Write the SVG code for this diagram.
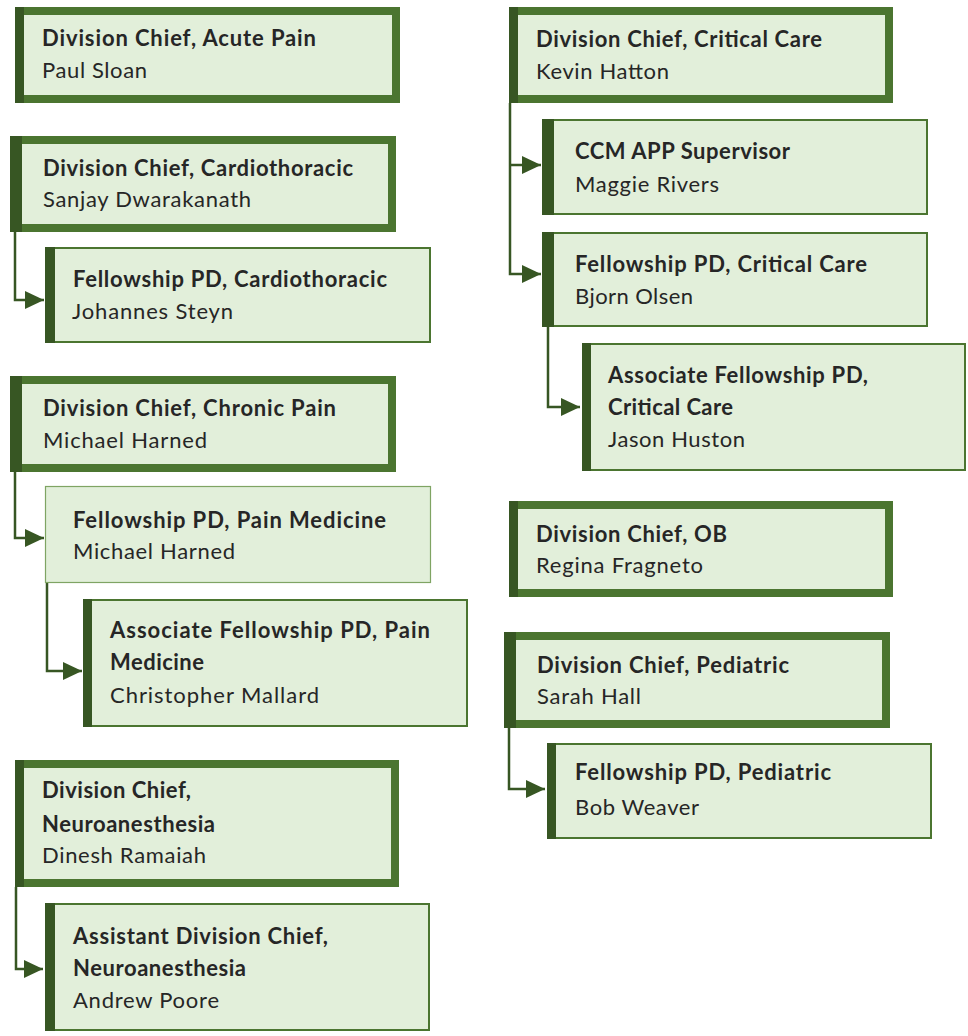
<svg xmlns="http://www.w3.org/2000/svg" width="968" height="1036" viewBox="0 0 968 1036">
<style>
  .chief { fill: #E2EFDA; stroke: #4B7530; stroke-width: 8; }
  .child { fill: #E2EFDA; stroke: #4B7530; stroke-width: 2; }
  .plain { fill: #E2EFDA; stroke: #7FA463; stroke-width: 1.2; }
  .stripe { fill: #375623; }
  .t { font-family: Lato, "Open Sans", "Liberation Sans", sans-serif; font-size: 22px; fill: #262626; }
  .b { font-weight: bold; }
  .conn { fill: none; stroke: #375623; stroke-width: 2.5; }
</style>
<defs>
  <marker id="arr" markerUnits="userSpaceOnUse" markerWidth="22" markerHeight="22" viewBox="-20 -10 22 20" refX="0" refY="0" orient="auto">
    <path d="M-19,-9 L0,0 L-19,9 Z" fill="#375623"/>
  </marker>
</defs>
<rect width="968" height="1036" fill="#FFFFFF"/>

<g id="connectors">
  <path class="conn" d="M15 232 V300 H44" marker-end="url(#arr)"/>
  <path class="conn" d="M15 472 V538 H44" marker-end="url(#arr)"/>
  <path class="conn" d="M47 583 V671 H82" marker-end="url(#arr)"/>
  <path class="conn" d="M16 887 V969 H43" marker-end="url(#arr)"/>
  <path class="conn" d="M510 103 V274 H541" marker-end="url(#arr)"/>
  <path class="conn" d="M510 165 H541" marker-end="url(#arr)"/>
  <path class="conn" d="M548 327 V407 H580" marker-end="url(#arr)"/>
  <path class="conn" d="M509 728 V789 H545" marker-end="url(#arr)"/>
</g>

<g id="chief-acute-pain">
  <rect class="chief" x="19" y="11" width="377" height="88"/>
  <rect class="stripe" x="15" y="7" width="9" height="96"/>
  <text class="t b" x="42" y="46" textLength="274" lengthAdjust="spacing">Division Chief, Acute Pain</text>
  <text class="t" x="42" y="78" textLength="105" lengthAdjust="spacing">Paul Sloan</text>
</g>

<g id="chief-cardiothoracic">
  <rect class="chief" x="14" y="140" width="378" height="88"/>
  <rect class="stripe" x="10" y="136" width="12" height="96"/>
  <text class="t b" x="43" y="176" textLength="310" lengthAdjust="spacing">Division Chief, Cardiothoracic</text>
  <text class="t" x="43" y="207" textLength="208" lengthAdjust="spacing">Sanjay Dwarakanath</text>
</g>

<g id="fellowship-cardiothoracic">
  <rect class="child" x="46" y="248" width="384" height="94"/>
  <rect class="stripe" x="45" y="247" width="10" height="96"/>
  <text class="t b" x="73" y="287" textLength="314" lengthAdjust="spacing">Fellowship PD, Cardiothoracic</text>
  <text class="t" x="72" y="319" textLength="161" lengthAdjust="spacing">Johannes Steyn</text>
</g>

<g id="chief-chronic-pain">
  <rect class="chief" x="14" y="380" width="378" height="88"/>
  <rect class="stripe" x="10" y="376" width="12" height="96"/>
  <text class="t b" x="43" y="416" textLength="293" lengthAdjust="spacing">Division Chief, Chronic Pain</text>
  <text class="t" x="43" y="448" textLength="164" lengthAdjust="spacing">Michael Harned</text>
</g>

<g id="fellowship-pain-medicine">
  <rect class="plain" x="45.5" y="486.5" width="385" height="96"/>
  <text class="t b" x="73" y="528" textLength="313" lengthAdjust="spacing">Fellowship PD, Pain Medicine</text>
  <text class="t" x="73" y="559" textLength="162" lengthAdjust="spacing">Michael Harned</text>
</g>

<g id="assoc-fellowship-pain-medicine">
  <rect class="child" x="84" y="600" width="383" height="126"/>
  <rect class="stripe" x="83" y="599" width="9" height="128"/>
  <text class="t b" x="110" y="638" textLength="320" lengthAdjust="spacing">Associate Fellowship PD, Pain</text>
  <text class="t b" x="110" y="670" textLength="94" lengthAdjust="spacing">Medicine</text>
  <text class="t" x="110" y="703" textLength="209" lengthAdjust="spacing">Christopher Mallard</text>
</g>

<g id="chief-neuroanesthesia">
  <rect class="chief" x="19" y="764" width="376" height="119"/>
  <rect class="stripe" x="15" y="760" width="9" height="127"/>
  <text class="t b" x="42" y="798" textLength="149" lengthAdjust="spacing">Division Chief,</text>
  <text class="t b" x="42" y="832" textLength="173" lengthAdjust="spacing">Neuroanesthesia</text>
  <text class="t" x="42" y="863" textLength="164" lengthAdjust="spacing">Dinesh Ramaiah</text>
</g>

<g id="assistant-chief-neuroanesthesia">
  <rect class="child" x="46" y="904" width="383" height="126"/>
  <rect class="stripe" x="45" y="903" width="10" height="128"/>
  <text class="t b" x="73" y="944" textLength="255" lengthAdjust="spacing">Assistant Division Chief,</text>
  <text class="t b" x="73" y="976" textLength="173" lengthAdjust="spacing">Neuroanesthesia</text>
  <text class="t" x="73" y="1008" textLength="146" lengthAdjust="spacing">Andrew Poore</text>
</g>

<g id="chief-critical-care">
  <rect class="chief" x="513" y="11" width="376" height="88"/>
  <rect class="stripe" x="509" y="7" width="9" height="96"/>
  <text class="t b" x="536" y="47" textLength="286" lengthAdjust="spacing">Division Chief, Critical Care</text>
  <text class="t" x="536" y="79" textLength="133" lengthAdjust="spacing">Kevin Hatton</text>
</g>

<g id="ccm-app-supervisor">
  <rect class="child" x="543" y="120" width="384" height="94"/>
  <rect class="stripe" x="542" y="119" width="12" height="96"/>
  <text class="t b" x="575" y="159" textLength="215" lengthAdjust="spacing">CCM APP Supervisor</text>
  <text class="t" x="575" y="192" textLength="144" lengthAdjust="spacing">Maggie Rivers</text>
</g>

<g id="fellowship-critical-care">
  <rect class="child" x="543" y="233" width="384" height="93"/>
  <rect class="stripe" x="542" y="232" width="12" height="95"/>
  <text class="t b" x="575" y="272" textLength="292" lengthAdjust="spacing">Fellowship PD, Critical Care</text>
  <text class="t" x="575" y="304" textLength="118" lengthAdjust="spacing">Bjorn Olsen</text>
</g>

<g id="assoc-fellowship-critical-care">
  <rect class="child" x="583" y="344" width="382" height="126"/>
  <rect class="stripe" x="582" y="343" width="9" height="128"/>
  <text class="t b" x="608" y="383" textLength="260" lengthAdjust="spacing">Associate Fellowship PD,</text>
  <text class="t b" x="608" y="415" textLength="125" lengthAdjust="spacing">Critical Care</text>
  <text class="t" x="608" y="447" textLength="137" lengthAdjust="spacing">Jason Huston</text>
</g>

<g id="chief-ob">
  <rect class="chief" x="513" y="505" width="376" height="88"/>
  <rect class="stripe" x="509" y="501" width="9" height="96"/>
  <text class="t b" x="536" y="542" textLength="191" lengthAdjust="spacing">Division Chief, OB</text>
  <text class="t" x="536" y="573" textLength="167" lengthAdjust="spacing">Regina Fragneto</text>
</g>

<g id="chief-pediatric">
  <rect class="chief" x="508" y="636" width="378" height="88"/>
  <rect class="stripe" x="504" y="632" width="12" height="96"/>
  <text class="t b" x="537" y="673" textLength="252" lengthAdjust="spacing">Division Chief, Pediatric</text>
  <text class="t" x="537" y="704" textLength="104" lengthAdjust="spacing">Sarah Hall</text>
</g>

<g id="fellowship-pediatric">
  <rect class="child" x="548" y="744" width="383" height="94"/>
  <rect class="stripe" x="547" y="743" width="9" height="96"/>
  <text class="t b" x="575" y="780" textLength="256" lengthAdjust="spacing">Fellowship PD, Pediatric</text>
  <text class="t" x="575" y="815" textLength="124" lengthAdjust="spacing">Bob Weaver</text>
</g>
</svg>
